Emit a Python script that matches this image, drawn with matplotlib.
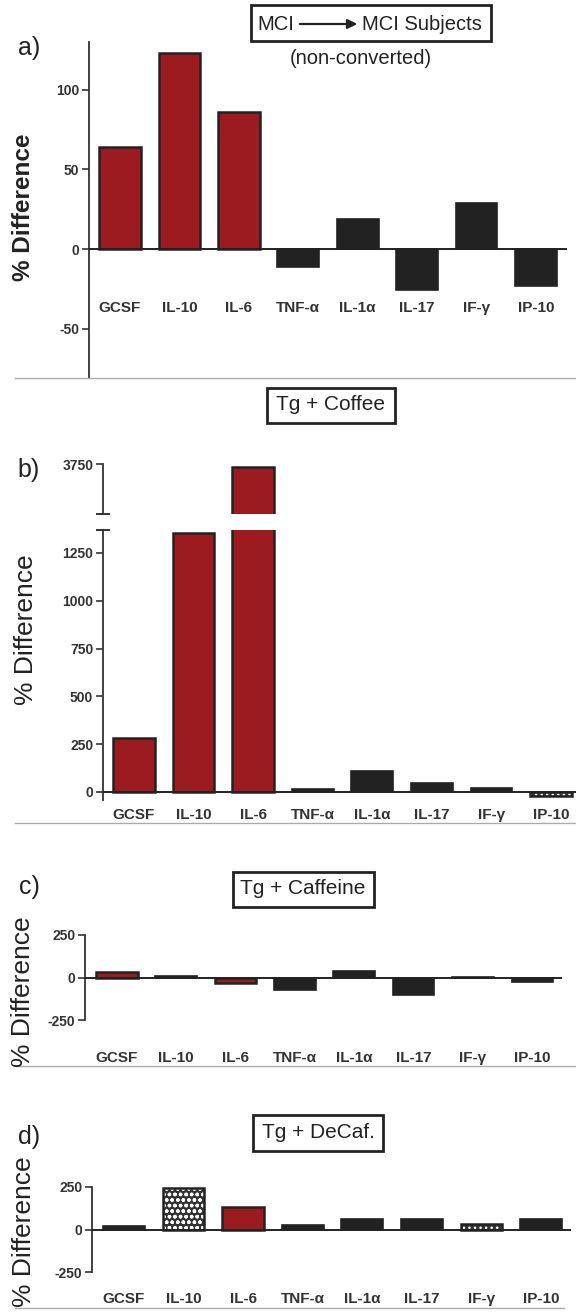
import matplotlib
matplotlib.use("Agg")
import matplotlib.pyplot as plt
import matplotlib.transforms as mtransforms
from matplotlib.lines import Line2D
from matplotlib.patches import Rectangle

plt.rcParams["font.family"] = ["Liberation Sans", "DejaVu Sans"]
plt.rcParams["axes.unicode_minus"] = False

# ---- data ----
cytokines = ["GCSF", "IL-10", "IL-6", "TNF-\u03b1", "IL-1\u03b1", "IL-17", "IF-\u03b3", "IP-10"]
mci_vals = [64, 123, 86, -11, 19, -26, 29, -23]
coffee_vals = [280, 1355, 3720, 15, 109, 47, 21, -20]
caffeine_vals = [30, 10, -35, -75, 40, -104, 5, -28]
decaf_vals = [20, 245, 130, 25, 62, 62, 35, 60]

# bar styles: "r" red, "k" black, "dot" dotted, "chk" checkered
mci_style = ["r", "r", "r", "k", "k", "k", "k", "k"]
coffee_style = ["r", "r", "r", "k", "k", "k", "k", "dot"]
caffeine_style = ["r", "k", "r", "k", "k", "k", "k", "k"]
decaf_style = ["k", "chk", "r", "k", "k", "k", "dot", "k"]

RED = "#9c1b20"
BLK = "#222222"
W, H = 576, 1313

fig = plt.figure(figsize=(W / 100, H / 100), dpi=100)


def px_box(x0, y0, x1, y1):
    return [x0 / W, 1 - y1 / H, (x1 - x0) / W, (y1 - y0) / H]


def fx(x):
    return x / W


def fy(y):
    return 1 - y / H


def draw_bars(ax, vals, styles, width=0.7):
    xs = range(len(vals))
    for x, v, s in zip(xs, vals, styles):
        if s == "r":
            ax.bar(x, v, width, color=RED, edgecolor=BLK, linewidth=1.8, zorder=2)
        elif s == "k":
            ax.bar(x, v, width, color=BLK, edgecolor=BLK, linewidth=1.2, zorder=2)
        else:
            hatch = "..." if s == "dot" else "ooo"
            ax.bar(x, v, width, color="#333", edgecolor="white", hatch=hatch,
                   linewidth=0, zorder=2)
            ax.bar(x, v, width, facecolor="none", edgecolor=BLK, linewidth=1.8, zorder=3)


def style_axis(ax, ticks, xlim, ylim):
    ax.set_xlim(*xlim)
    ax.set_ylim(*ylim)
    for sp in ["top", "right", "bottom"]:
        ax.spines[sp].set_visible(False)
    ax.spines["left"].set_linewidth(1.3)
    ax.spines["left"].set_color("#333")
    ax.set_xticks([])
    ax.set_yticks(ticks)
    ax.tick_params(axis="y", direction="out", length=5, width=1.2, colors="#333",
                   labelsize=10, pad=2)
    for lb in ax.get_yticklabels():
        lb.set_fontweight("bold")
    ax.patch.set_alpha(0)
    ax.axhline(0, color=BLK, lw=1.4, zorder=4)


def cat_labels(ax, y_px, size=11):
    tr = mtransforms.blended_transform_factory(ax.transData, fig.transFigure)
    for i, c in enumerate(cytokines):
        ax.text(i, fy(y_px), c, transform=tr, ha="center", va="center",
                fontsize=size, fontweight="bold", color="#333")


def title_box(cx, cy, text, w, h, size=15):
    fig.add_artist(Rectangle((fx(cx - w / 2), fy(cy + h / 2)), w / W, h / H,
                             transform=fig.transFigure, facecolor="white",
                             edgecolor=BLK, linewidth=2))
    if text:
        fig.text(fx(cx), fy(cy), text, ha="center", va="center", fontsize=size, color="#222")


def separator(y, x0=15, x1=576):
    fig.add_artist(Line2D([fx(x0), fx(x1)], [fy(y), fy(y)], color="#aaa", lw=1,
                          transform=fig.transFigure))


# ---- panel a ----
ax_a = fig.add_axes(px_box(89, 42, 567, 378))
draw_bars(ax_a, mci_vals, mci_style)
style_axis(ax_a, [-50, 0, 50, 100], (-0.52, 7.52), (-81, 130))
cat_labels(ax_a, 308)
fig.text(fx(24), fy(207), "% Difference", rotation=90, ha="center", va="center",
         fontsize=17.5, fontweight="bold", color="#222")
fig.text(fx(29), fy(48), "a)", ha="center", va="center", fontsize=18, color="#222")
title_box(371, 23, "", 240, 36)
fig.text(fx(276), fy(24), "MCI", ha="center", va="center", fontsize=14.5, color="#222")
fig.text(fx(422), fy(24), "MCI Subjects", ha="center", va="center", fontsize=14.5, color="#222")
fig.add_artist(matplotlib.patches.FancyArrowPatch(
    (fx(297), fy(24)), (fx(360), fy(24)), transform=fig.transFigure,
    arrowstyle="-|>", mutation_scale=14, color=BLK, lw=1.6))
fig.text(fx(361), fy(58), "(non-converted)", ha="center", va="center", fontsize=14.5,
         color="#222")
separator(378)

# ---- panel b (broken axis) ----
ax_bt = fig.add_axes(px_box(103, 464, 576, 514))
ax_b = fig.add_axes(px_box(103, 530, 576, 800))
draw_bars(ax_bt, coffee_vals, coffee_style)
draw_bars(ax_b, coffee_vals, coffee_style)
style_axis(ax_b, [0, 250, 500, 750, 1000, 1250], (-0.52, 7.42), (-42, 1370))
style_axis(ax_bt, [3750], (-0.52, 7.42), (3250, 3750))
ax_b.plot([0], [1], marker="_", ms=10, mew=1.4, color="#333",
          transform=ax_b.transAxes, clip_on=False)
ax_bt.plot([0], [0], marker="_", ms=10, mew=1.4, color="#333",
           transform=ax_bt.transAxes, clip_on=False)
cat_labels(ax_b, 815)
fig.text(fx(26), fy(630), "% Difference", rotation=90, ha="center", va="center",
         fontsize=19, color="#222")
fig.text(fx(29), fy(470), "b)", ha="center", va="center", fontsize=18, color="#222")
title_box(331, 405, "Tg + Coffee", 128, 35)
separator(823)

# ---- panel c ----
ax_c = fig.add_axes(px_box(85, 935, 562, 1020))
draw_bars(ax_c, caffeine_vals, caffeine_style)
style_axis(ax_c, [-250, 0, 250], (-0.535, 7.50), (-250, 250))
cat_labels(ax_c, 1058)
fig.text(fx(23), fy(992), "% Difference", rotation=90, ha="center", va="center",
         fontsize=19, color="#222")
fig.text(fx(29), fy(887), "c)", ha="center", va="center", fontsize=18, color="#222")
title_box(303, 889, "Tg + Caffeine", 141, 35)
separator(1066)

# ---- panel d ----
ax_d = fig.add_axes(px_box(92, 1187, 571, 1272))
draw_bars(ax_d, decaf_vals, decaf_style)
style_axis(ax_d, [-250, 0, 250], (-0.535, 7.50), (-250, 250))
cat_labels(ax_d, 1299)
fig.text(fx(24), fy(1232), "% Difference", rotation=90, ha="center", va="center",
         fontsize=19, color="#222")
fig.text(fx(29), fy(1137), "d)", ha="center", va="center", fontsize=18, color="#222")
title_box(318, 1133, "Tg + DeCaf.", 130, 36)
separator(1308, 15, 564)

fig.savefig("out.png", dpi=100)
